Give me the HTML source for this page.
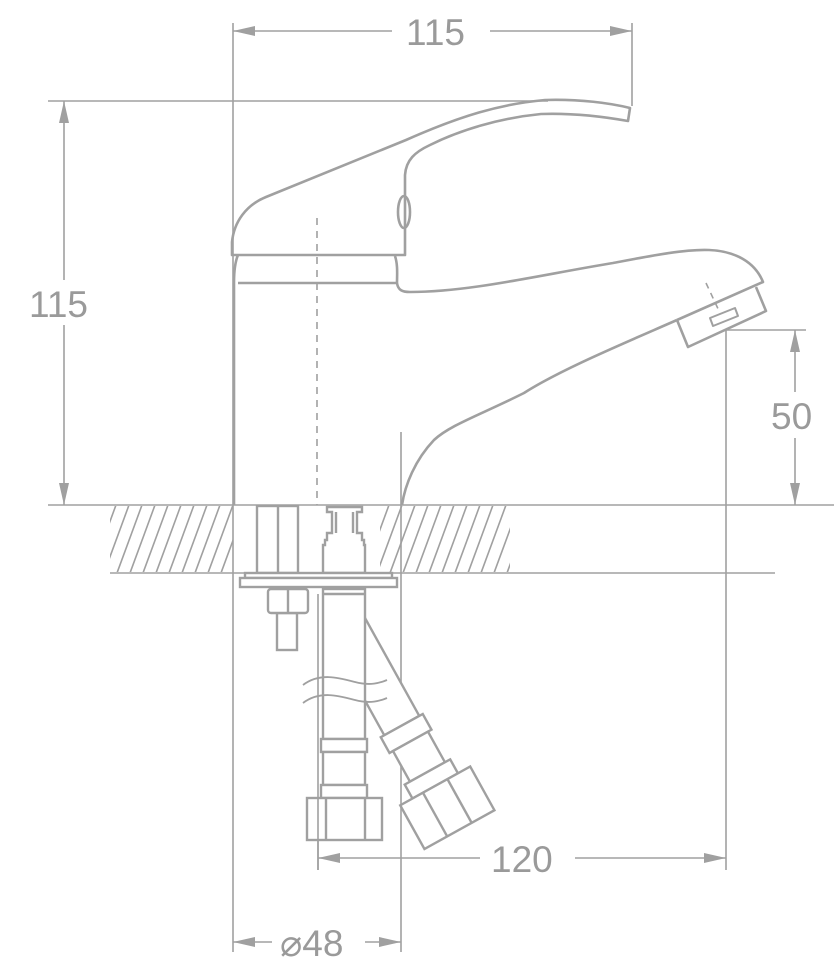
<!DOCTYPE html>
<html><head><meta charset="utf-8"><style>
html,body{margin:0;padding:0;background:#fff;}
svg{display:block;}
text{font-family:"Liberation Sans",sans-serif;fill:#9a9a9a;font-size:37px;}
</style></head><body>
<svg width="834" height="968" viewBox="0 0 834 968" xmlns="http://www.w3.org/2000/svg">
<defs>
<marker id="a" viewBox="0 0 22 10" refX="22" refY="5" markerWidth="22" markerHeight="10" markerUnits="userSpaceOnUse" orient="auto-start-reverse"><path d="M22,5 L0,0 L0,10 Z" fill="#a0a0a0"/></marker>
<pattern id="h" patternUnits="userSpaceOnUse" width="13" height="68" patternTransform="translate(0,505)">
<g stroke="#a0a0a0" stroke-width="1.6">
<line x1="0" y1="68" x2="25" y2="0"/><line x1="-13" y1="68" x2="12" y2="0"/><line x1="-26" y1="68" x2="-1" y2="0"/><line x1="13" y1="68" x2="38" y2="0"/>
</g></pattern>
</defs>
<g stroke="#a0a0a0" fill="none">
<rect x="110" y="506" width="123" height="66" fill="url(#h)" stroke="none"/>
<rect x="380" y="506" width="130" height="66" fill="url(#h)" stroke="none"/>
<g stroke-width="1.6">
<line x1="233" y1="23" x2="233" y2="952"/>
<line x1="632" y1="23" x2="632" y2="106"/>
<line x1="48" y1="101" x2="548" y2="101"/>
<line x1="48" y1="505" x2="834" y2="505"/>
<line x1="110" y1="573" x2="775" y2="573"/>
<line x1="726" y1="330" x2="806" y2="330"/>
<line x1="726" y1="330" x2="726" y2="870"/>
<line x1="401" y1="432" x2="401" y2="952"/>
<line x1="318" y1="840" x2="318" y2="870"/>
<line x1="392" y1="31" x2="233" y2="31" marker-end="url(#a)"/>
<line x1="490" y1="31" x2="632" y2="31" marker-end="url(#a)"/>
<line x1="64" y1="280" x2="64" y2="101" marker-end="url(#a)"/>
<line x1="64" y1="325" x2="64" y2="505" marker-end="url(#a)"/>
<line x1="795" y1="392" x2="795" y2="330" marker-end="url(#a)"/>
<line x1="795" y1="438" x2="795" y2="505" marker-end="url(#a)"/>
<line x1="480" y1="858" x2="318" y2="858" marker-end="url(#a)"/>
<line x1="575" y1="858" x2="726" y2="858" marker-end="url(#a)"/>
<line x1="272" y1="942" x2="233" y2="942" marker-end="url(#a)"/>
<line x1="365" y1="942" x2="401" y2="942" marker-end="url(#a)"/>
</g>
<line x1="317" y1="218" x2="317" y2="505" stroke-width="1.6" stroke-dasharray="7,6"/>
<line x1="706" y1="283" x2="720" y2="313" stroke-width="1.6" stroke-dasharray="6,5"/>
<g stroke-width="2.6" stroke-linejoin="round">
<path d="M232,255 L232,242 C234,222 246,205 266,197 L406,140 C460,116 500,104 545,100 C580,99 610,103 630,108 L628,121 C600,116 570,113 541,114 C500,118 460,130 430,145 C415,152 406,160 405,175 L405,255 Z"/>
<ellipse cx="404" cy="212" rx="6" ry="16"/>
<path d="M238,255 C235,262 234,270 234,283 L234,505"/>
<path d="M238,283 L397,283"/>
<path d="M395,256 C398,265 397,275 397,283 C398,290 402,292 410,292 C470,292 540,275 613,263 C650,256 685,249 709,250 C735,251 755,262 763,282 L677,320"/>
<path d="M677,320 C620,345 560,370 524,393 C480,415 450,425 434,440 C415,460 405,485 402,505"/>
<path d="M677,320 L688,347 L766,311 L756,287"/>
<path d="M713,326 L710,318 L735,308 L738,316 Z" stroke-width="2"/>
</g>
<g stroke-width="2.4" fill="#fff">
<rect x="257" y="506" width="41" height="67"/>
<line x1="278" y1="506" x2="278" y2="573"/>
<path d="M327,507 L362,507 L362,512 L357,512 L357,533 L362,533 L362,540 L364,540 L364,545 L365,545 L365,573 L323,573 L323,545 L325,545 L325,540 L327,540 L327,533 L332,533 L332,512 L327,512 Z"/>
<line x1="336" y1="512" x2="336" y2="533"/><line x1="353" y1="512" x2="353" y2="533"/>
<rect x="245" y="573" width="147" height="5"/>
<rect x="240" y="578" width="157" height="9"/>
<rect x="277" y="613" width="20" height="37"/>
<rect x="268" y="589" width="40" height="24" rx="3"/>
<line x1="288" y1="589" x2="288" y2="613"/>
<g transform="translate(346,625) rotate(-29)">
<rect x="-20" y="0" width="40" height="115"/>
<rect x="-24" y="115" width="48" height="18"/>
<rect x="-20" y="133" width="40" height="35"/>
<rect x="-26" y="168" width="52" height="16"/>
<rect x="-40" y="184" width="80" height="50"/>
<line x1="-14" y1="184" x2="-14" y2="234"/><line x1="14" y1="184" x2="14" y2="234"/>
</g>
<rect x="323" y="589" width="42" height="150"/>
<line x1="323" y1="594" x2="365" y2="594"/>
<rect x="321" y="739" width="46" height="13"/>
<rect x="323" y="752" width="42" height="33"/>
<rect x="321" y="785" width="46" height="13"/>
<rect x="307" y="798" width="75" height="42"/>
<line x1="326" y1="798" x2="326" y2="840"/><line x1="365" y1="798" x2="365" y2="840"/>
</g>
<g stroke-width="1.8">
<path d="M303,685 C320,672 340,678 355,682 C370,686 380,683 387,680"/>
<path d="M303,703 C320,690 340,696 355,700 C370,704 380,701 387,698"/>
<line x1="318" y1="594" x2="318" y2="870" stroke-width="1.6"/>
</g>
</g>
<text x="406" y="45">115</text>
<text x="29" y="317">115</text>
<text x="771" y="429">50</text>
<text x="491" y="872">120</text>
<text x="280" y="956">⌀48</text>
</svg>
</body></html>
